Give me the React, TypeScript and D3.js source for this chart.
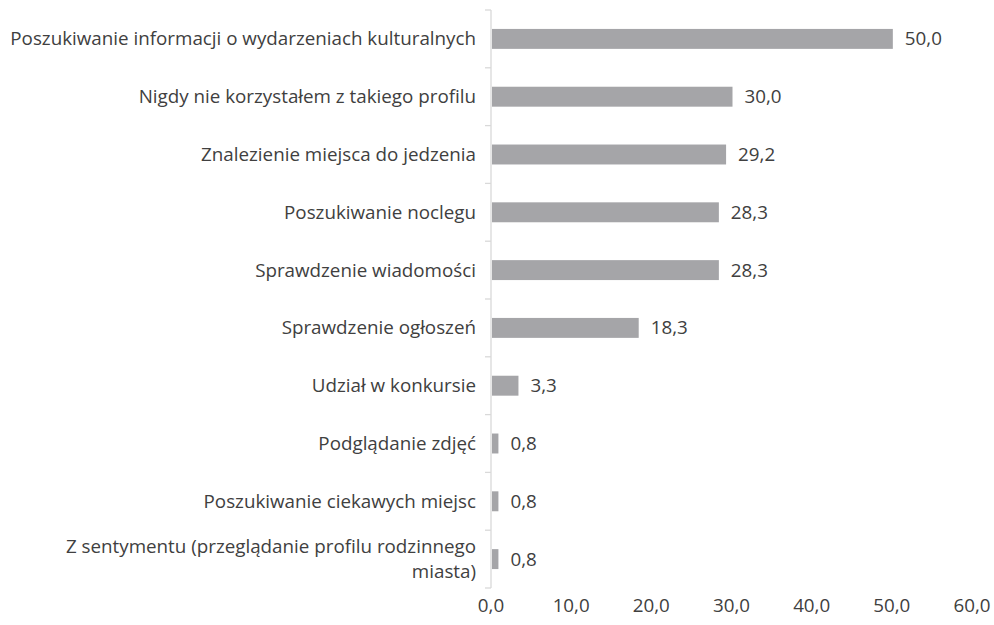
import React from 'react';
import * as d3 from 'd3';

const categories = [
  'Poszukiwanie informacji o wydarzeniach kulturalnych',
  'Nigdy nie korzystałem z takiego profilu',
  'Znalezienie miejsca do jedzenia',
  'Poszukiwanie noclegu',
  'Sprawdzenie wiadomości',
  'Sprawdzenie ogłoszeń',
  'Udział w konkursie',
  'Podglądanie zdjęć',
  'Poszukiwanie ciekawych miejsc',
  'Z sentymentu (przeglądanie profilu rodzinnego|miasta)',
];
const values = [50.0, 30.0, 29.2, 28.3, 28.3, 18.3, 3.3, 0.8, 0.8, 0.8];
const ticks = [0, 10, 20, 30, 40, 50, 60];

const fmt = (v: number) => v.toFixed(1).replace('.', ',');

const App = () => {
  const width = 994;
  const height = 625;
  const font = '"Open Sans", sans-serif';
  const fs = 18.8;
  const textColor = '#404040';

  const x = d3.scaleLinear().domain([0, 60]).range([491, 972]);
  const y = d3.scaleBand<number>()
    .domain(d3.range(categories.length))
    .range([10, 588])
    .paddingInner(0.655)
    .paddingOuter(0.3275);
  const step = y.step();
  const bandStart = 10;

  return (
    <svg width={width} height={height} style={{ position: 'absolute', left: 0, top: 0 }}>
      <rect width={width} height={height} fill="#fff" />
      {/* bars */}
      {values.map((v, i) => (
        <rect
          key={'b' + i}
          x={x(0) + 1}
          y={y(i)!}
          width={x(v) - x(0)}
          height={y.bandwidth()}
          fill="#a5a5a8"
        />
      ))}
      {/* axis */}
      <line x1={x(0)} x2={x(0)} y1={bandStart} y2={bandStart + step * categories.length} stroke="#d9d9d9" strokeWidth={1.3} />
      {d3.range(categories.length + 1).map(i => (
        <line
          key={'t' + i}
          x1={x(0) - 6}
          x2={x(0)}
          y1={bandStart + step * i}
          y2={bandStart + step * i}
          stroke="#d9d9d9"
          strokeWidth={1.3}
        />
      ))}
      {/* category labels */}
      {categories.map((c, i) => {
        const lines = c.split('|');
        const cy = y(i)! + y.bandwidth() / 2;
        const lh = 25;
        return (
          <text key={'c' + i} x={476} textAnchor="end" fontFamily={font} fontSize={fs} fill={textColor}>
            {lines.map((l, j) => (
              <tspan key={j} x={476} y={cy + (j - (lines.length - 1) / 2) * lh} dy="0.35em">
                {l}
              </tspan>
            ))}
          </text>
        );
      })}
      {/* value labels */}
      {values.map((v, i) => (
        <text
          key={'v' + i}
          x={x(v) + 13}
          y={y(i)! + y.bandwidth() / 2}
          dy="0.35em"
          fontFamily={font}
          fontSize={fs}
          fill={textColor}
        >
          {fmt(v)}
        </text>
      ))}
      {/* x tick labels */}
      {ticks.map(t => (
        <text
          key={'x' + t}
          x={x(t)}
          y={605}
          dy="0.35em"
          textAnchor="middle"
          fontFamily={font}
          fontSize={fs}
          fill={textColor}
        >
          {fmt(t)}
        </text>
      ))}
    </svg>
  );
};

export default App;
